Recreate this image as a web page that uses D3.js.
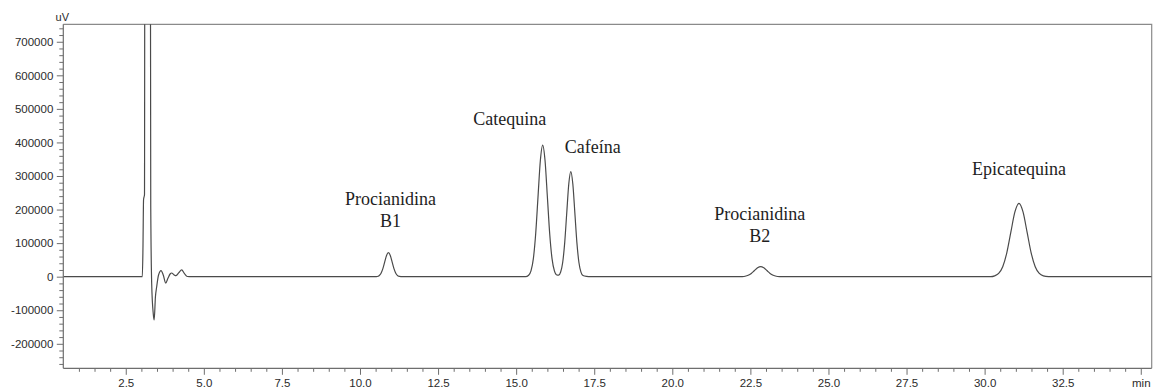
<!DOCTYPE html>
<html>
<head>
<meta charset="utf-8">
<script src="https://cdn.jsdelivr.net/npm/d3@7"></script>
<style>
  html, body { margin: 0; padding: 0; background: #fff; }
  svg { display: block; }
</style>
</head>
<body>
<svg id="chart" width="1154" height="390"></svg>
<script>
// Retention time window (min) and detector range (uV)
const timeRange = [0.5, 35.35];
const signalRange = [-273000, 752000];

// Tick values
const xMajorTicks = [2.5, 5.0, 7.5, 10.0, 12.5, 15.0, 17.5, 20.0, 22.5, 25.0, 27.5, 30.0, 32.5, 35.0];
const xTickLabels = ["2.5", "5.0", "7.5", "10.0", "12.5", "15.0", "17.5", "20.0", "22.5", "25.0", "27.5", "30.0", "32.5", "min"];
const yMajorTicks = [-200000, -100000, 0, 100000, 200000, 300000, 400000, 500000, 600000, 700000];

// Trace segments [min, uV]
const injectionFront = [
  [0.5, 0], [3.03, 0], [3.05, 80000], [3.07, 230000], [3.10, 245000], [3.115, 1600000],
  [3.28, 1600000], [3.30, 210000], [3.33, -20000], [3.38, -110000], [3.41, -129000],
  [3.45, -60000], [3.49, -30000], [3.55, 5000], [3.63, 18000], [3.70, 5000],
  [3.78, -19000], [3.85, -5000], [3.92, 8000], [3.97, 11000], [4.04, 6000],
  [4.11, 3000], [4.20, 12000], [4.29, 20000], [4.38, 9000], [4.47, 500], [4.60, 0]
];
const procianidinaB1 = [
  [10.50, 0], [10.55, 500], [10.61, 3000], [10.67, 9700], [10.73, 23200], [10.79, 43400],
  [10.85, 63100], [10.91, 71500], [10.97, 63100], [11.03, 43400], [11.09, 23200],
  [11.15, 9700], [11.21, 3000], [11.27, 700], [11.35, 0]
];
const catequinaCafeina = [
  [15.30, 0], [15.40, 4300], [15.475, 17200], [15.55, 53000], [15.625, 127300],
  [15.70, 237700], [15.775, 346000], [15.85, 392000], [15.925, 346000], [16.00, 237700],
  [16.075, 127300], [16.15, 53000], [16.225, 17200], [16.30, 5100], [16.36, 4600],
  [16.425, 14000], [16.49, 42300], [16.555, 101600], [16.62, 189700], [16.685, 276000],
  [16.75, 312800], [16.815, 276000], [16.88, 189700], [16.945, 101600], [17.01, 42300],
  [17.075, 13700], [17.14, 3400], [17.25, 800], [17.40, 0]
];
const procianidinaB2 = [
  [22.15, 0], [22.23, 300], [22.33, 1300], [22.43, 4100], [22.53, 9700], [22.63, 18200],
  [22.73, 26500], [22.83, 30000], [22.93, 26500], [23.03, 18200], [23.13, 9700],
  [23.23, 4100], [23.33, 1300], [23.43, 300], [23.55, 0]
];
const epicatequina = [
  [30.20, 0], [30.32, 2400], [30.45, 9600], [30.58, 29600], [30.71, 71000], [30.84, 132600],
  [30.97, 192900], [31.10, 218600], [31.23, 192900], [31.36, 132600], [31.49, 71000],
  [31.62, 29600], [31.75, 9600], [31.88, 2400], [32.05, 300], [32.20, 0], [35.35, 0]
];

// Peak annotations
const peakNames = [["Procianidina", "B1"], ["Catequina"], ["Cafeína"], ["Procianidina", "B2"], ["Epicatequina"]];
const peakTimes = [10.91, 15.85, 16.75, 22.83, 31.10];
const peakHeights = [71500, 392000, 312800, 30000, 218600];

const svg = d3.select("#chart");
const margin = { top: 24.3, right: 2.3, bottom: 21.7, left: 63.3 };
const W = 1154, H = 390;

const x = d3.scaleLinear().domain(timeRange).range([margin.left, W - margin.right]);
const y = d3.scaleLinear().domain(signalRange).range([H - margin.bottom, margin.top]);

const axisColor = "#6e6e6e";
const textColor = "#2b2b2b";

// Plot frame (top and right edges)
svg.append("path")
  .attr("d", `M${x.range()[0]},${y.range()[1]}H${x.range()[1]}V${y.range()[0]}`)
  .attr("fill", "none").attr("stroke", "#8a8a8a").attr("stroke-width", 1.2);

// Clip region for the trace
svg.append("clipPath").attr("id", "plot-clip")
  .append("rect")
  .attr("x", x.range()[0]).attr("y", y.range()[1])
  .attr("width", x.range()[1] - x.range()[0]).attr("height", y.range()[0] - y.range()[1]);

// Chromatogram trace
const trace = [].concat(injectionFront, procianidinaB1, catequinaCafeina, procianidinaB2, epicatequina);
const line = d3.line().x(d => x(d[0])).y(d => y(d[1])).curve(d3.curveMonotoneX);
svg.append("path")
  .datum(trace)
  .attr("clip-path", "url(#plot-clip)")
  .attr("fill", "none")
  .attr("stroke", "#4a4a4a")
  .attr("stroke-width", 1.2)
  .attr("stroke-linejoin", "round")
  .attr("d", line);

// X axis: minor ticks every 0.5 min, labelled major ticks every 2.5 min
const xMinor = d3.range(1.0, 35.01, 0.5).filter(v => !xMajorTicks.some(m => Math.abs(m - v) < 1e-6));
const xAxisG = svg.append("g").attr("transform", `translate(0,${y.range()[0]})`);
xAxisG.call(d3.axisBottom(x).tickValues(xMinor).tickSize(3.5).tickFormat(""));
xAxisG.call(g => g.select(".domain").remove());
const xMajorG = svg.append("g").attr("transform", `translate(0,${y.range()[0]})`)
  .call(d3.axisBottom(x).tickValues(xMajorTicks).tickSize(6.5).tickPadding(4)
    .tickFormat((d, i) => xTickLabels[i]));
xMajorG.select(".domain").remove();

// Y axis: minor ticks every 20000, labelled major ticks every 100000
const yMinor = d3.range(-260000, 750001, 20000).filter(v => v % 100000 !== 0);
const yAxisG = svg.append("g").attr("transform", `translate(${x.range()[0]},0)`);
yAxisG.call(d3.axisLeft(y).tickValues(yMinor).tickSize(4).tickFormat(""));
yAxisG.call(g => g.select(".domain").remove());
const yMajorG = svg.append("g").attr("transform", `translate(${x.range()[0]},0)`)
  .call(d3.axisLeft(y).tickValues(yMajorTicks).tickSize(6.5).tickPadding(3.5)
    .tickFormat(d => String(d)));
yMajorG.select(".domain").remove();

// Axis lines
svg.append("line")
  .attr("x1", x.range()[0]).attr("x2", x.range()[1])
  .attr("y1", y.range()[0]).attr("y2", y.range()[0])
  .attr("stroke", axisColor).attr("stroke-width", 1.2);
svg.append("line")
  .attr("x1", x.range()[0]).attr("x2", x.range()[0])
  .attr("y1", y.range()[1]).attr("y2", y.range()[0])
  .attr("stroke", axisColor).attr("stroke-width", 1.2);

svg.selectAll(".tick line").attr("stroke", axisColor).attr("stroke-width", 1);
svg.selectAll(".tick text")
  .attr("fill", textColor)
  .style("font-family", "'Liberation Sans', Arial, sans-serif")
  .style("font-size", "11.5px");

// Unit label
svg.append("text")
  .attr("x", x.range()[0] - 1).attr("y", 21)
  .attr("text-anchor", "middle")
  .attr("fill", textColor)
  .style("font-family", "'Liberation Sans', Arial, sans-serif")
  .style("font-size", "11px")
  .text("uV");

// Peak labels: horizontal shift and lift above the apex
const labelLayout = [
  { dx: 2, lift: 48 },
  { dx: -33, lift: 20 },
  { dx: 22, lift: 19 },
  { dx: -1, lift: 47 },
  { dx: 0, lift: 28 }
];
peakNames.forEach((lines, i) => {
  const t = svg.append("text")
    .attr("x", x(peakTimes[i]) + labelLayout[i].dx)
    .attr("y", y(peakHeights[i]) - labelLayout[i].lift)
    .attr("text-anchor", "middle")
    .attr("fill", "#1e1e1e")
    .style("font-family", "'Liberation Serif', 'Times New Roman', serif")
    .style("font-size", "18px");
  lines.forEach((s, j) => {
    t.append("tspan")
      .attr("x", x(peakTimes[i]) + labelLayout[i].dx)
      .attr("dy", j === 0 ? 0 : 22.5)
      .text(s);
  });
});
</script>
</body>
</html>
